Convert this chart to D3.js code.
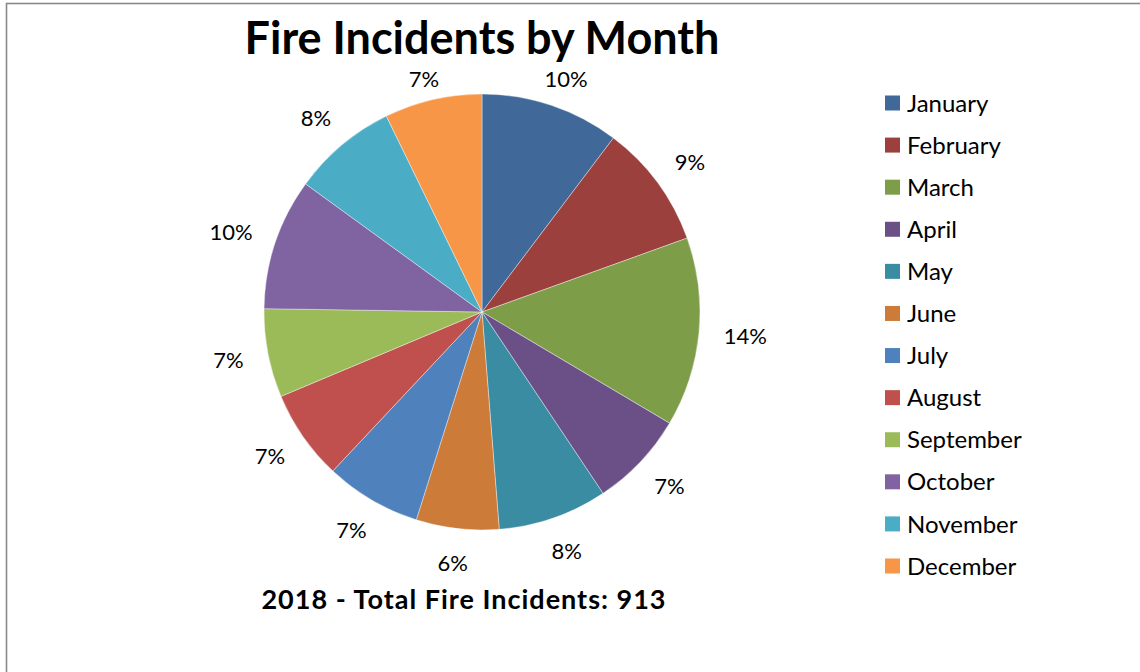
<!DOCTYPE html>
<html>
<head>
<meta charset="utf-8">
<script src="https://cdn.jsdelivr.net/npm/d3@7"></script>
<style>
  html, body { margin: 0; padding: 0; background: #fff; }
  svg { display: block; font-family: Lato, "Open Sans", sans-serif; }
</style>
</head>
<body>
<svg id="chart" width="1140" height="672"></svg>
<script>
const months = ["January","February","March","April","May","June","July","August","September","October","November","December"];
const incidents = [94, 84, 128, 65, 74, 56, 65, 61, 60, 89, 71, 66];
const colors = ["#40699A","#9B403D","#7E9D49","#6A5087","#3A8CA2","#CC7B38","#4F81BD","#C0504D","#9BBB59","#8064A2","#4BACC6","#F79646"];
const titleText = "Fire Incidents by Month";
const subtitleText = "2018 - Total Fire Incidents: 913";

const svg = d3.select("#chart");
const W = 1140, H = 672;

// chart area border
svg.append("rect")
  .attr("x", 6.5).attr("y", 3.5)
  .attr("width", W + 10).attr("height", H + 10)
  .attr("fill", "#fff")
  .attr("stroke", "#898989").attr("stroke-width", 1.6);

const cx = 482, cy = 312, R = 218;
const data = months.map((m, i) => ({ month: m, value: incidents[i], color: colors[i] }));
const total = d3.sum(incidents);

const pie = d3.pie().value(d => d.value).sort(null);
const arc = d3.arc().innerRadius(0).outerRadius(R);
const arcs = pie(data);

const g = svg.append("g").attr("transform", `translate(${cx},${cy})`);
g.selectAll("path.slice")
  .data(arcs)
  .enter().append("path")
  .attr("class", "slice")
  .attr("d", arc)
  .attr("fill", d => d.data.color)
  .attr("stroke", "rgba(255,255,255,0.55)")
  .attr("stroke-width", 0.7);

// title
const title = svg.append("text")
  .attr("x", cx).attr("y", 54)
  .attr("text-anchor", "middle")
  .attr("font-size", 45)
  .attr("font-weight", "bold")
  .attr("fill", "#000")
  .text(titleText);
const tb = title.node().getBBox();

// subtitle
svg.append("text")
  .attr("x", 464).attr("y", 609)
  .attr("text-anchor", "middle")
  .attr("font-size", 27)
  .attr("letter-spacing", 1)
  .attr("font-weight", "bold")
  .attr("fill", "#000")
  .text(subtitleText);

// percentage labels, outside end
const fmt = d3.format(".0%");
const gap = 23;
const lbl = g.selectAll("text.pct")
  .data(arcs)
  .enter().append("text")
  .attr("class", "pct")
  .attr("font-size", 22)
  .attr("fill", "#000")
  .attr("text-anchor", "middle")
  .text(d => fmt(d.data.value / total));

lbl.each(function(d) {
  const t = d3.select(this);
  const bb = this.getBBox();
  const w = bb.width, h = 15.5; // approx digit height box
  const a = (d.startAngle + d.endAngle) / 2;
  const sx = Math.sin(a), sy = -Math.cos(a);
  const ax = (R + gap) * sx, ay = (R + gap) * sy;
  const bx = ax + (w / 2 + 2) * sx;
  const by = ay + (h / 2 + 4) * sy;
  t.attr("x", bx).attr("y", by + h / 2);
  // keep labels clear of the title: push down if they collide
  const b2 = this.getBBox();
  const left = b2.x + cx, right = left + b2.width, top = b2.y + cy;
  const titleBottom = tb.y + tb.height;
  if (right > tb.x && left < tb.x + tb.width && top < titleBottom) {
    t.attr("y", by + h / 2 + (titleBottom - top) + 0.5);
  }
});

// legend
const legendY = d3.scalePoint().domain(months).range([103, 566]);
const leg = svg.append("g").selectAll("g")
  .data(data).enter().append("g")
  .attr("transform", d => `translate(885,${legendY(d.month)})`);
leg.append("rect")
  .attr("x", 0).attr("y", -7.5)
  .attr("width", 15).attr("height", 15)
  .attr("fill", d => d.color);
leg.append("text")
  .attr("x", 22).attr("y", 0)
  .attr("dy", "0.36em")
  .attr("font-size", 24)
  .attr("fill", "#000")
  .text(d => d.month);
</script>
</body>
</html>
